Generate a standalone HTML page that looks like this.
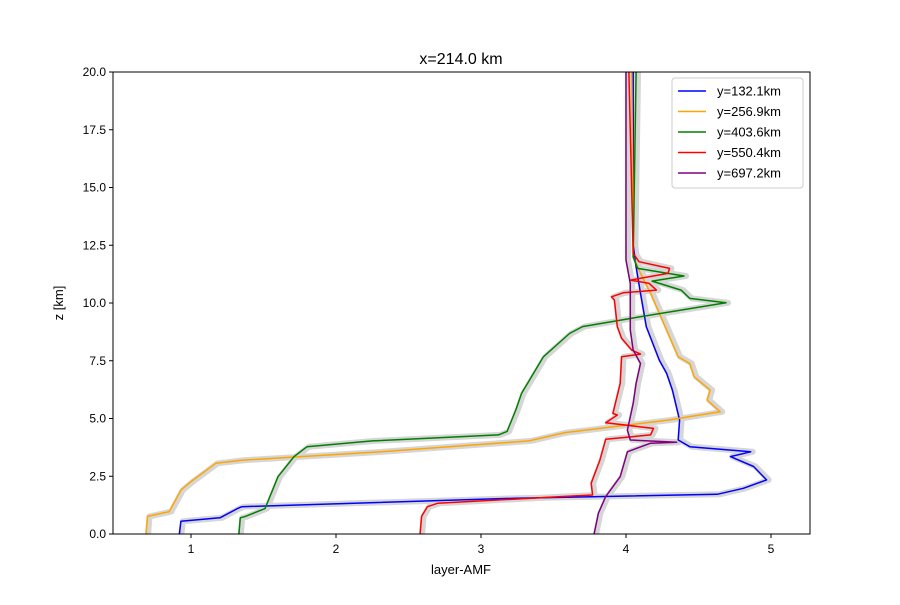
<!DOCTYPE html>
<html><head><meta charset="utf-8"><style>
body{margin:0;background:#fff}
svg text{font-family:"Liberation Sans","DejaVu Sans",sans-serif;fill:#000}
</style></head><body>
<svg id="chart" width="900" height="600" xmlns="http://www.w3.org/2000/svg">
<rect width="900" height="600" fill="#fff"/>
<text x="461" y="64" font-size="16" text-anchor="middle">x=214.0 km</text>
<g id="bands"></g>
<g id="lines"></g>
<rect x="113" y="72" width="697" height="462" fill="none" stroke="#000" stroke-width="1"/>
<g id="xticks"></g>
<g id="yticks"></g>
<text x="461" y="574" font-size="13" text-anchor="middle">layer-AMF</text>
<text x="63" y="303" font-size="13" text-anchor="middle" transform="rotate(-90 63 303)">z [km]</text>
<g id="legend"></g>
</svg>
<script>
const xTicks=[1,2,3,4,5];
const yTicks=[0,2.5,5,7.5,10,12.5,15,17.5,20];
const seriesNames=["y=132.1km","y=256.9km","y=403.6km","y=550.4km","y=697.2km"];
const seriesColors=["blue","orange","green","red","purple"];
const zBlue=[0,0.55,0.7,1.1,1.18,1.55,1.72,1.98,2.34,2.92,3.35,3.56,3.78,4.07,4.93,6.23,6.96,7.53,8.98,10.42,11.57,12.5,20];
const xBlue=[0.92,0.93,1.2,1.32,1.35,3.24,4.63,4.81,4.97,4.88,4.72,4.86,4.44,4.36,4.37,4.32,4.28,4.23,4.14,4.10,4.07,4.05,4.05];
const zOrange=[0,0.76,0.97,1.9,2.27,3.06,3.2,3.56,4.03,4.39,4.93,5.29,5.8,6.23,6.81,7.38,7.67,8.98,10.42,11.28,12,20];
const xOrange=[0.69,0.70,0.85,0.93,1.0,1.17,1.36,2.31,3.33,3.58,4.29,4.65,4.56,4.58,4.47,4.44,4.36,4.27,4.17,4.10,4.05,4.04];
const zGreen=[0,0.7,0.75,1.1,2.48,3.35,3.78,4.03,4.29,4.44,5.37,6.09,7.67,8.68,8.98,9.34,10.01,10.2,10.56,10.95,11.17,11.5,12,20];
const xGreen=[1.33,1.34,1.37,1.51,1.60,1.71,1.80,2.25,3.12,3.18,3.24,3.28,3.43,3.61,3.70,4.04,4.69,4.44,4.38,4.18,4.40,4.08,4.05,4.07];
const zRed=[0,0.76,1.18,1.33,1.62,1.69,2.2,3.2,4.1,4.29,4.57,4.82,5.15,5.22,6.52,7.67,7.79,7.96,8.47,8.98,10.13,10.27,10.44,10.56,10.85,10.99,11.28,11.5,11.79,12.15,20];
const xRed=[2.58,2.59,2.63,2.70,3.55,3.77,3.76,3.82,3.86,4.17,4.19,3.86,3.94,3.91,3.96,3.97,4.10,4.04,3.97,3.94,3.92,3.90,3.98,4.21,4.16,4.03,4.29,4.30,4.09,4.05,4.02];
const zPurple=[0,0.9,1.62,2.48,3.56,3.93,3.97,4.07,4.5,5.66,6.52,7.38,7.96,8.83,10.85,11.86,20];
const xPurple=[3.78,3.81,3.86,3.96,4.01,4.17,4.35,4.03,4.01,4.05,4.07,4.10,4.05,4.03,4.03,4.0,4.0];
const seriesX=[xBlue,xOrange,xGreen,xRed,xPurple];
const seriesZ=[zBlue,zOrange,zGreen,zRed,zPurple];

const NS="http://www.w3.org/2000/svg";
const X0=113,X1=810,Y0=534,Y1=72,xmin=0.462,xmax=5.269,ymin=0,ymax=20;
function sx(v){return X0+(v-xmin)/(xmax-xmin)*(X1-X0);}
function sy(v){return Y0-(v-ymin)/(ymax-ymin)*(Y0-Y1);}
function mk(t,a,p){const e=document.createElementNS(NS,t);for(const k in a)e.setAttribute(k,a[k]);p.appendChild(e);return e;}
const bands=document.getElementById('bands'),lines=document.getElementById('lines');
seriesX.forEach((xs,i)=>{
  const zs=seriesZ[i];
  const pts=xs.map((v,j)=>sx(v).toFixed(1)+','+sy(zs[j]).toFixed(1)).join(' ');
  const ptsB=xs.map((v,j)=>(sx(v)+2).toFixed(1)+','+sy(zs[j]).toFixed(1)).join(' ');
  const b=mk('polyline',{points:ptsB,fill:'none',stroke:'#d6d6d6','stroke-width':6,'stroke-linejoin':'round'},bands);
  
  
  const l=mk('polyline',{points:pts,fill:'none',stroke:seriesColors[i],'stroke-width':1.5,'stroke-linejoin':'round'},lines);
  
  
});
const xg=document.getElementById('xticks');
xTicks.forEach(v=>{
  const t=mk('line',{x1:sx(v),x2:sx(v),y1:Y0,y2:Y0+4,stroke:'#000'},xg);
  
  
  const tx=mk('text',{x:sx(v),y:Y0+19,'font-size':12,'text-anchor':'middle'},xg);tx.textContent=v;
  
  
});
const yg=document.getElementById('yticks');
yTicks.forEach(v=>{
  const t=mk('line',{x1:X0-4,x2:X0,y1:sy(v),y2:sy(v),stroke:'#000'},yg);
  
  
  const tx=mk('text',{x:X0-7,y:sy(v)+4,'font-size':12,'text-anchor':'end'},yg);tx.textContent=v.toFixed(1);
  
  
});
const lg=document.getElementById('legend');
const box=mk('rect',{x:672,y:78,width:131,height:110,rx:3,fill:'#fff','fill-opacity':0.8,stroke:'#ccc'},lg);


seriesNames.forEach((n,i)=>{
  const y=91+i*20.5;
  const g=mk('g',{},lg);
  
  
  mk('line',{x1:678,x2:706,y1:y,y2:y,stroke:seriesColors[i],'stroke-width':1.5},g);
  const t=mk('text',{x:717,y:y+4.5,'font-size':13},g);t.textContent=n;
});
</script>
</body></html>
